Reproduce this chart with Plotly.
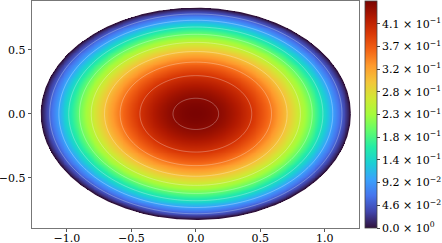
import numpy as np
import plotly.graph_objects as go

# Domain / field parameters (ellipse, paraboloid-like profile)
semi_axis_x = 1.2
semi_axis_y = 0.825
peak_value = 0.46

contour_levels = [0.05, 0.10, 0.15, 0.20, 0.25, 0.30, 0.35, 0.40, 0.45]

cbar_tickvals = [0.0, 0.046, 0.092, 0.138, 0.184, 0.23, 0.276, 0.322, 0.368, 0.414]
cbar_ticktext = ["0.0 × 10<sup>0</sup>", "4.6 × 10<sup>−2</sup>", "9.2 × 10<sup>−2</sup>",
                 "1.4 × 10<sup>−1</sup>", "1.8 × 10<sup>−1</sup>", "2.3 × 10<sup>−1</sup>",
                 "2.8 × 10<sup>−1</sup>", "3.2 × 10<sup>−1</sup>", "3.7 × 10<sup>−1</sup>",
                 "4.1 × 10<sup>−1</sup>"]

x_tickvals = [-1.0, -0.5, 0.0, 0.5, 1.0]
x_ticktext = ["−1.0", "−0.5", "0.0", "0.5", "1.0"]
y_tickvals = [-0.5, 0.0, 0.5]
y_ticktext = ["−0.5", "0.0", "0.5"]

x = np.linspace(-semi_axis_x, semi_axis_x, 641)
y = np.linspace(-semi_axis_y, semi_axis_y, 441)
X, Y = np.meshgrid(x, y)
R2 = (X / semi_axis_x) ** 2 + (Y / semi_axis_y) ** 2
Z_full = peak_value * (1 - R2)
Z = np.where(R2 <= 1.0, Z_full, np.nan)

theta = np.linspace(0, 2 * np.pi, 721)
edge_x = semi_axis_x * np.cos(theta) * 0.998
edge_y = semi_axis_y * np.sin(theta) * 0.998

font_family = "DejaVu Serif"

fig = go.Figure()
fig.add_trace(go.Heatmap(
    x=x, y=y, z=Z, colorscale="Turbo", zmin=0, zmax=peak_value,
    hoverinfo="skip",
    colorbar=dict(
        x=1.0183, xanchor="left", xpad=0, ypad=0,
        y=0.5, yanchor="middle", len=1.0, lenmode="fraction",
        thickness=12, outlinewidth=0.8, outlinecolor="#444",
        tickmode="array", tickvals=cbar_tickvals, ticktext=cbar_ticktext,
        ticks="outside", ticklen=3, tickcolor="#444",
        tickfont=dict(family=font_family, size=11, color="black"),
    ),
))
fig.add_trace(go.Contour(
    x=x, y=y, z=Z_full, showscale=False, hoverinfo="skip",
    contours=dict(coloring="none", start=contour_levels[0], end=contour_levels[-1],
                  size=contour_levels[1] - contour_levels[0]),
    line=dict(color="rgba(255,255,255,0.5)", width=0.6),
))
fig.add_trace(go.Scatter(
    x=edge_x, y=edge_y, mode="lines", hoverinfo="skip",
    line=dict(color="#30123b", width=1.2),
))

axis_common = dict(showgrid=False, zeroline=False, showline=True, mirror=True,
                   linecolor="#555", linewidth=0.8, ticks="outside", ticklen=3.5,
                   tickcolor="#555", automargin=False,
                   tickfont=dict(family=font_family, size=11, color="black"))
fig.update_layout(
    width=442, height=243,
    margin=dict(l=32, r=83, t=1, b=14.5, autoexpand=False),
    paper_bgcolor="white", plot_bgcolor="white",
    xaxis=dict(range=[-1.27, 1.265], tickmode="array", tickvals=x_tickvals,
               ticktext=x_ticktext, ticklabelstandoff=-4, **axis_common),
    yaxis=dict(range=[-0.89, 0.88], tickmode="array", tickvals=y_tickvals,
               ticktext=y_ticktext, **axis_common),
    showlegend=False,
)
fig.write_html("out.html", config={"displayModeBar": False, "staticPlot": True},
               post_script="document.body.style.margin='0';")
